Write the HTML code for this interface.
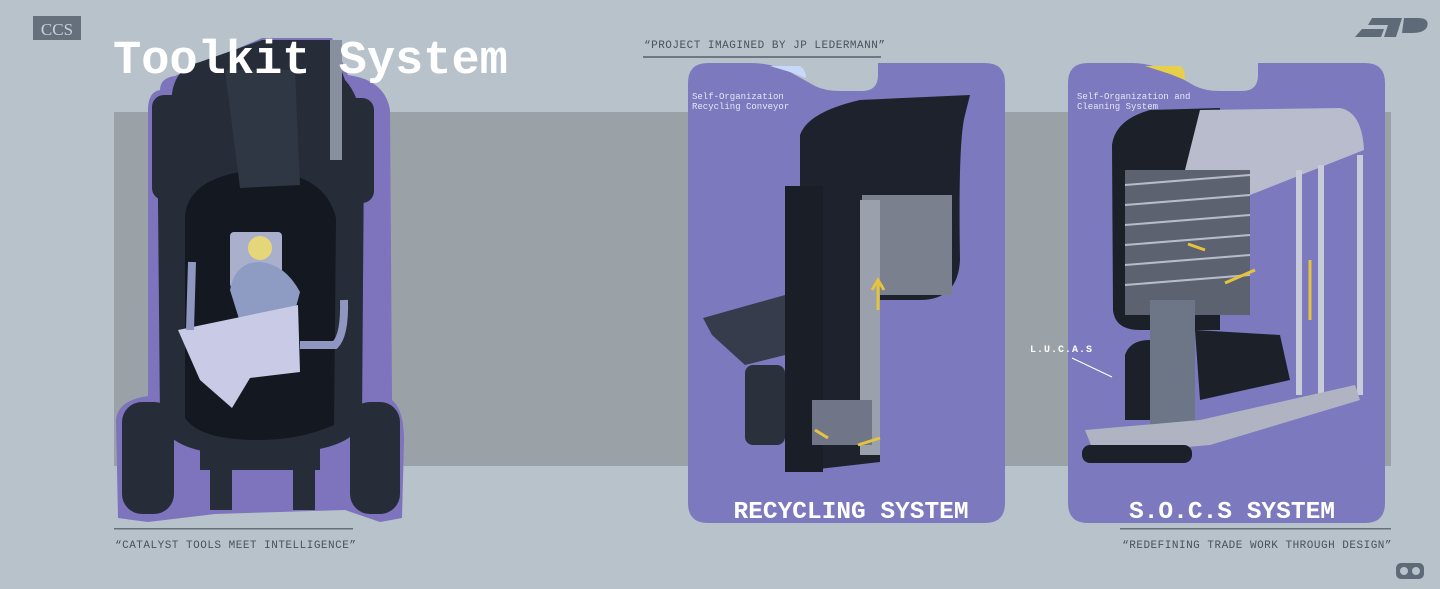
<!DOCTYPE html>
<html><head><meta charset="utf-8"><style>
html,body{margin:0;padding:0;width:1440px;height:589px;overflow:hidden;background:#b8c2ca}
svg{display:block}
text{font-family:"Liberation Mono","DejaVu Sans Mono",monospace}
</style></head><body>
<svg width="1440" height="589" viewBox="0 0 1440 589">
<rect width="1440" height="589" fill="#b8c2ca"/>
<rect x="114" y="112" width="1277" height="354" fill="#9aa2a8"/>
<!-- CCS logo -->
<rect x="33" y="16" width="48" height="24" fill="#66707c"/>
<text x="57" y="35" font-size="17" fill="#c9d0d6" text-anchor="middle" style="font-family:'Liberation Serif',serif">CCS</text>
<!-- JP logo -->
<path d="M1372 18 L1402 18 L1396 37 L1384 37 L1388 25 L1368 25Z M1362 29 L1384 29 L1381 37 L1355 37Z M1404 18 L1418 18 Q1430 18 1427 27 Q1424 33 1412 33 L1402 33Z" fill="#5e6a78"/>
<!-- top label -->
<text x="644" y="48" font-size="11" fill="#4a525c" letter-spacing="0.5">“PROJECT IMAGINED BY JP LEDERMANN”</text>
<rect x="643" y="56" width="238" height="2" fill="#6e7884"/>
<!-- vehicle purple outline -->
<path d="M160 90 Q160 78 175 76 L262 38 L332 38 L348 75 Q385 80 390 110 L392 400 Q404 410 404 440 L402 518 L380 522 L345 510 L215 514 L148 522 L118 518 L116 420 Q118 400 148 396 L148 110 Q148 92 160 90Z" fill="#7d74bd"/>
<g fill="#262c38">
<rect x="152" y="95" width="34" height="105" rx="12"/>
<rect x="340" y="98" width="34" height="105" rx="12"/>
<rect x="122" y="402" width="52" height="112" rx="20"/>
<rect x="350" y="402" width="50" height="112" rx="20"/>
<path d="M172 110 Q168 70 200 62 L262 40 L330 40 L345 80 Q364 100 364 150 L362 420 Q356 446 300 452 L225 454 Q168 450 160 420 L158 200 Q156 150 172 110Z"/>
<rect x="200" y="440" width="120" height="30"/>
<rect x="210" y="465" width="22" height="45"/><rect x="293" y="465" width="22" height="45"/>
</g>
<path d="M185 215 Q190 175 258 170 Q325 172 336 218 L334 425 Q300 440 258 440 Q200 440 185 418Z" fill="#141820"/>
<path d="M225 70 L295 70 L300 185 L240 188Z" fill="#303744"/>
<rect x="330" y="40" width="12" height="120" fill="#8890a0"/>
<!-- worker and desk -->
<rect x="230" y="232" width="52" height="56" rx="4" fill="#aab0cc"/>
<circle cx="260" cy="248" r="12" fill="#e6d67a"/>
<path d="M230 290 Q235 262 260 262 Q285 264 300 292 L292 322 L240 322Z" fill="#8e9cc4"/>
<path d="M178 330 L298 305 L300 372 L250 378 L232 408 L200 380Z" fill="#c8cae6"/>
<path d="M190 330 L192 262" stroke="#8f97c0" stroke-width="8" fill="none"/>
<path d="M300 345 L335 345 Q345 335 344 300" stroke="#8f97c0" stroke-width="8" fill="none"/>
<!-- title -->
<text x="113" y="73" font-size="47" fill="#ffffff" font-weight="bold" style="font-family:'Liberation Mono',monospace">Toolkit System</text>
<rect x="114" y="528" width="239" height="1.5" fill="#66707c"/>
<text x="115" y="548" font-size="11" fill="#4a525c" letter-spacing="0.5">“CATALYST TOOLS MEET INTELLIGENCE”</text>
<!-- cards -->
<path d="M708 63 L752 63 Q770 63 790 72 L815 86 Q825 91 840 91 L862 91 Q878 91 878 75 L878 63 L985 63 Q1005 63 1005 83 L1005 503 Q1005 523 985 523 L708 523 Q688 523 688 503 L688 83 Q688 63 708 63Z" fill="#7d79bf"/>
<path d="M1088 63 L1132 63 Q1150 63 1170 72 L1195 86 Q1205 91 1220 91 L1242 91 Q1258 91 1258 75 L1258 63 L1365 63 Q1385 63 1385 83 L1385 503 Q1385 523 1365 523 L1088 523 Q1068 523 1068 503 L1068 83 Q1068 63 1088 63Z" fill="#7d79bf"/>
<path d="M1145 66 L1180 66 Q1185 68 1185 80 L1170 74Z" fill="#e8cf4a"/>
<path d="M770 66 L800 66 Q806 70 806 78 L790 72Z" fill="#c8d8f8"/>
<text x="692" y="99" font-size="9" fill="#e6e6f4">Self-Organization</text>
<text x="692" y="109" font-size="9" fill="#e6e6f4">Recycling Conveyor</text>
<text x="1077" y="99" font-size="9" fill="#e6e6f4">Self-Organization and</text>
<text x="1077" y="109" font-size="9" fill="#e6e6f4">Cleaning System</text>
<!-- recycling machine -->
<path d="M703 318 L785 295 L785 355 L745 365 L712 335Z" fill="#363c4c"/>
<rect x="745" y="365" width="40" height="80" rx="8" fill="#2a303c"/>
<path d="M800 135 Q808 112 860 100 L970 95 L965 115 Q958 140 960 260 Q958 300 920 300 L880 300 L880 462 L810 470 L810 260 Q800 250 800 200Z" fill="#1e222c"/>
<rect x="785" y="186" width="38" height="286" fill="#1a1e26"/>
<rect x="862" y="195" width="90" height="100" fill="#7a808e"/>
<rect x="860" y="200" width="20" height="255" fill="#9aa0ac"/>
<rect x="812" y="400" width="60" height="45" fill="#707688"/>
<path d="M878 310 L878 282 M872 290 L878 280 L884 290" stroke="#e6c33c" stroke-width="3" fill="none"/>
<path d="M858 445 L880 438 M815 430 L828 438" stroke="#e6c33c" stroke-width="3"/>
<!-- SOCS machine -->
<path d="M1112 145 Q1115 120 1150 110 L1220 108 L1220 330 L1140 330 Q1115 330 1113 310Z" fill="#1c2028"/>
<path d="M1200 110 L1340 108 Q1362 112 1364 150 L1250 195 L1185 170Z" fill="#b8bccc"/>
<rect x="1125" y="170" width="125" height="145" fill="#5c6270"/>
<g stroke="#b8bcc8" stroke-width="2">
<line x1="1125" y1="185" x2="1250" y2="175"/><line x1="1125" y1="205" x2="1250" y2="195"/><line x1="1125" y1="225" x2="1250" y2="215"/><line x1="1125" y1="245" x2="1250" y2="235"/><line x1="1125" y1="265" x2="1250" y2="255"/><line x1="1125" y1="285" x2="1250" y2="275"/>
</g>
<rect x="1150" y="300" width="45" height="140" fill="#6c7686"/>
<rect x="1296" y="170" width="6" height="225" fill="#c8ccd8"/><rect x="1318" y="165" width="6" height="230" fill="#c8ccd8"/><rect x="1357" y="155" width="6" height="240" fill="#c8ccd8"/>
<path d="M1125 355 Q1130 340 1150 340 L1150 420 L1125 420Z" fill="#1c2028"/>
<path d="M1195 330 L1280 335 L1290 380 L1200 400Z" fill="#1c2028"/>
<path d="M1085 430 L1200 420 L1355 385 L1360 400 L1210 445 L1095 455Z" fill="#b0b4c2"/>
<rect x="1082" y="445" width="110" height="18" rx="8" fill="#1c2028"/>
<path d="M1225 283 L1255 270 M1310 260 L1310 320 M1188 244 L1205 250" stroke="#e6c33c" stroke-width="3"/>
<text x="1030" y="352" font-size="10" fill="#ffffff" font-weight="bold" letter-spacing="1">L.U.C.A.S</text>
<line x1="1072" y1="358" x2="1112" y2="377" stroke="#ffffff" stroke-width="1.2"/>
<!-- titles -->
<text x="851" y="518" font-size="24" fill="#ffffff" font-weight="bold" text-anchor="middle" textLength="235" lengthAdjust="spacingAndGlyphs">RECYCLING SYSTEM</text>
<text x="1232" y="518" font-size="24" fill="#ffffff" font-weight="bold" text-anchor="middle" textLength="206" lengthAdjust="spacingAndGlyphs">S.O.C.S SYSTEM</text>
<rect x="1120" y="528" width="271" height="1.5" fill="#66707c"/>
<text x="1392" y="548" font-size="11" fill="#4a525c" text-anchor="end" letter-spacing="0.5">“REDEFINING TRADE WORK THROUGH DESIGN”</text>
<!-- bottom-right icon -->
<rect x="1396" y="563" width="28" height="16" rx="5" fill="#5e6a78"/>
<circle cx="1404" cy="571" r="4" fill="#b8c2ca"/><circle cx="1416" cy="571" r="4" fill="#b8c2ca"/>
</svg>
</body></html>
